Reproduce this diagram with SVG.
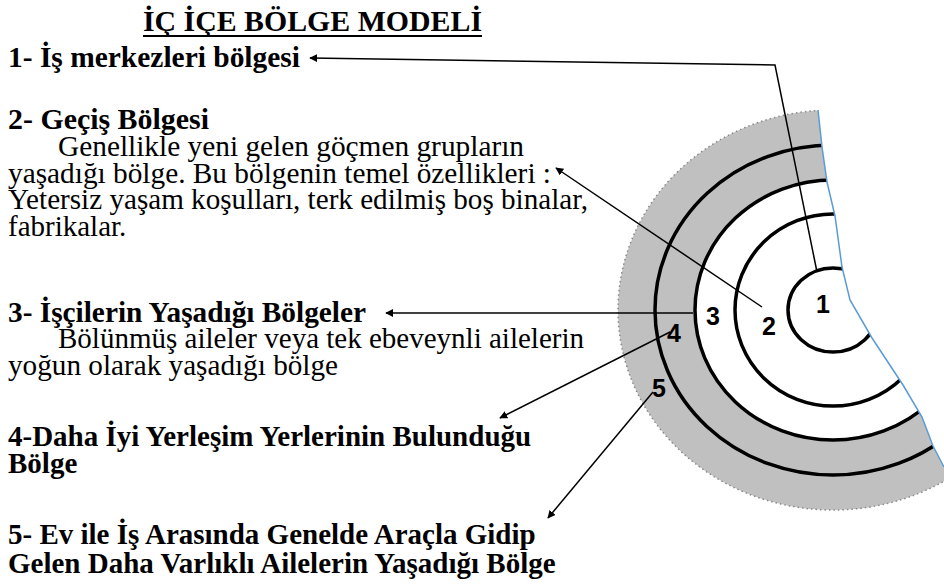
<svg xmlns="http://www.w3.org/2000/svg" width="944" height="588" viewBox="0 0 944 588">
<style>
.t{font-family:"Liberation Serif",serif;font-size:29px;fill:#000}
.b{font-weight:bold}
.n{font-family:"Liberation Sans",Arial,sans-serif;font-weight:bold;font-size:25px;fill:#000}
.ring{fill:none;stroke:#000;stroke-width:3.5}
.con{fill:none;stroke:#000;stroke-width:1.5}
</style>
<defs>
<marker id="ah" viewBox="0 0 10 10" refX="9" refY="5" markerWidth="8" markerHeight="8" markerUnits="userSpaceOnUse" orient="auto">
<path d="M0,0 L10,5 L0,10 z" fill="#000"/>
</marker>
<clipPath id="wedge">
<polygon points="500,0 818,0 818,110 822,147 827,182 835,216 842,267 850,300 872,338 903,385 922,417 933,446 944,467 944,588 500,588"/>
</clipPath>
</defs>
<rect width="944" height="588" fill="#fff"/>
<g id="model">
<g clip-path="url(#wedge)">
<ellipse cx="833" cy="310" rx="215" ry="200" fill="#c0c0c0" stroke="#8a8a8a" stroke-width="1.5" stroke-dasharray="1.5 3"/>
<ellipse cx="833" cy="310" rx="138" ry="130" fill="#fff"/>
<ellipse class="ring" cx="833" cy="310" rx="178" ry="165"/>
<ellipse class="ring" cx="833" cy="310" rx="138" ry="130"/>
<ellipse class="ring" cx="833" cy="310" rx="98" ry="96"/>
<ellipse class="ring" cx="833" cy="310" rx="45" ry="42"/>
</g>
<polyline points="818,110 822,147 827,182 835,216 842,267 850,300 872,338 903,385 922,417 933,446 944,467" fill="none" stroke="#5b9bd5" stroke-width="1.5"/>
</g>
<g id="zone-labels">
<text class="n" x="816" y="313">1</text>
<text class="n" x="762" y="335">2</text>
<text class="n" x="706" y="325">3</text>
<text class="n" x="667" y="342">4</text>
<text class="n" x="652" y="397">5</text>
</g>
<g id="title">
<text class="t b" x="143" y="31" textLength="339" lengthAdjust="spacingAndGlyphs">İÇ İÇE BÖLGE MODELİ</text>
<line x1="143" y1="36" x2="482" y2="36" stroke="#000" stroke-width="2"/>
</g>
<g id="zone1">
<text class="t b" x="8" y="67" textLength="292" lengthAdjust="spacingAndGlyphs">1- İş merkezleri bölgesi</text>
</g>
<g id="zone2">
<text class="t b" x="8" y="129" textLength="201" lengthAdjust="spacingAndGlyphs">2- Geçiş Bölgesi</text>
<text class="t" x="58" y="156" textLength="466" lengthAdjust="spacingAndGlyphs">Genellikle yeni gelen göçmen grupların</text>
<text class="t" x="8" y="183" textLength="543" lengthAdjust="spacingAndGlyphs">yaşadığı bölge. Bu bölgenin temel özellikleri :</text>
<text class="t" x="8" y="209" textLength="580" lengthAdjust="spacingAndGlyphs">Yetersiz yaşam koşulları, terk edilmiş boş binalar,</text>
<text class="t" x="8" y="236">fabrikalar.</text>
</g>
<g id="zone3">
<text class="t b" x="8" y="322" textLength="358" lengthAdjust="spacingAndGlyphs">3- İşçilerin Yaşadığı Bölgeler</text>
<text class="t" x="58" y="348" textLength="526" lengthAdjust="spacingAndGlyphs">Bölünmüş aileler veya tek ebeveynli ailelerin</text>
<text class="t" x="8" y="375" textLength="330" lengthAdjust="spacingAndGlyphs">yoğun olarak yaşadığı bölge</text>
</g>
<g id="zone4">
<text class="t b" x="8" y="446">4-Daha İyi Yerleşim Yerlerinin Bulunduğu</text>
<text class="t b" x="8" y="473">Bölge</text>
</g>
<g id="zone5">
<text class="t b" x="8" y="544">5- Ev ile İş Arasında Genelde Araçla Gidip</text>
<text class="t b" x="8" y="573">Gelen Daha Varlıklı Ailelerin Yaşadığı Bölge</text>
</g>
<g id="connectors">
<polyline class="con" points="817,272 775,65 310,58" marker-end="url(#ah)"/>
<line class="con" x1="762" y1="307" x2="556" y2="168" marker-end="url(#ah)"/>
<line class="con" x1="693" y1="313" x2="386" y2="313" marker-end="url(#ah)"/>
<line class="con" x1="670" y1="332" x2="500" y2="418" marker-end="url(#ah)"/>
<line class="con" x1="653" y1="392" x2="548" y2="518" marker-end="url(#ah)"/>
</g>
</svg>
